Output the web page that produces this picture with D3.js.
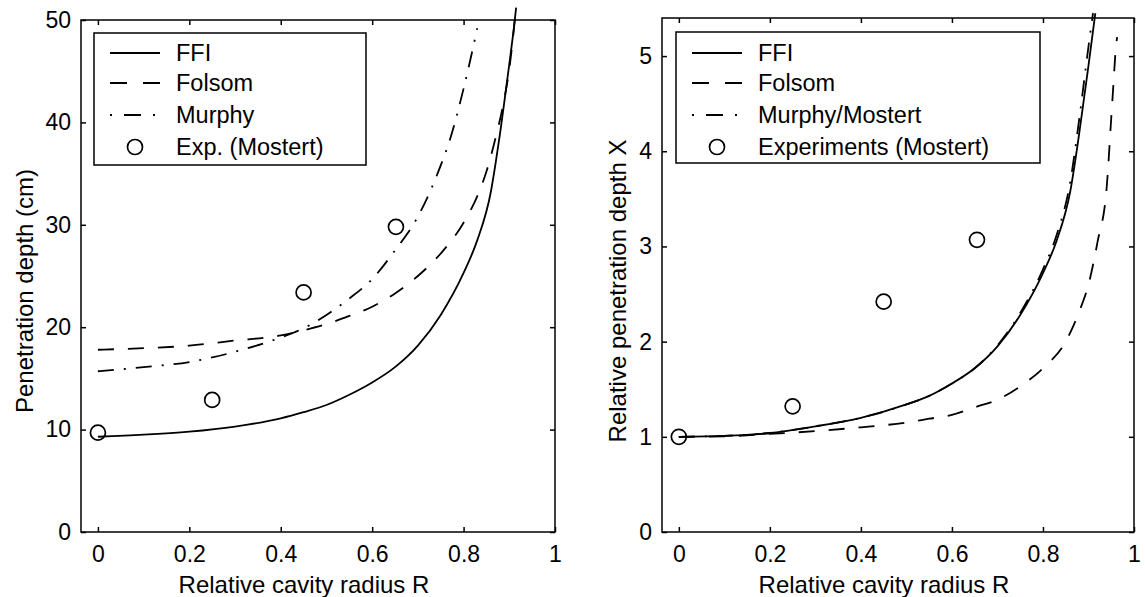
<!DOCTYPE html>
<html>
<head>
<meta charset="utf-8">
<script src="https://cdn.jsdelivr.net/npm/d3@7"></script>
<style>
  body { margin: 0; background: #fff; }
  svg { font-family: "Liberation Sans", Arial, sans-serif; }
  .axis path, .axis line { stroke: #000; stroke-width: 1.5; }
  .axis text { font-size: 23px; fill: #000; }
</style>
</head>
<body>
<svg id="chart" width="1145" height="597"></svg>
<script>
// x values shared by the curves (relative cavity radius R)
var rFfiL    = [0, 0.1, 0.2, 0.3, 0.4, 0.45, 0.5, 0.55, 0.6, 0.65, 0.7, 0.75, 0.8, 0.83, 0.86, 0.87, 0.88, 0.89, 0.9, 0.91, 0.915];
var ffiL     = [9.3, 9.5, 9.8, 10.3, 11.1, 11.7, 12.4, 13.4, 14.6, 16.1, 18.2, 21.2, 25.3, 28.5, 33.3, 36.0, 39.0, 42.3, 45.7, 49.2, 51.2];
var rFolL    = [0, 0.1, 0.2, 0.3, 0.4, 0.45, 0.5, 0.55, 0.6, 0.65, 0.7, 0.75, 0.8, 0.83, 0.85, 0.87, 0.89, 0.9, 0.912];
var folsomL  = [17.8, 17.95, 18.2, 18.7, 19.2, 19.7, 20.3, 21.1, 22.0, 23.3, 25.0, 27.2, 30.2, 32.8, 35.2, 38.5, 42.5, 45.2, 50.0];
var rMurL    = [0, 0.1, 0.2, 0.3, 0.4, 0.45, 0.5, 0.55, 0.6, 0.65, 0.7, 0.75, 0.77, 0.8, 0.83];
var murphyL  = [15.7, 16.1, 16.6, 17.6, 19.0, 19.9, 21.2, 22.8, 24.7, 27.5, 30.8, 35.8, 38.3, 43.3, 49.2];
var expRL    = [0, 0.25, 0.45, 0.652];
var expL     = [9.7, 12.9, 23.4, 29.8];

var rFfiR    = [0, 0.1, 0.2, 0.3, 0.4, 0.5, 0.55, 0.6, 0.65, 0.7, 0.75, 0.8, 0.83, 0.86, 0.88, 0.89, 0.9, 0.915];
var ffiR     = [1.0, 1.01, 1.04, 1.11, 1.2, 1.34, 1.43, 1.56, 1.72, 1.95, 2.28, 2.72, 3.06, 3.58, 4.2, 4.55, 4.9, 5.45];
var rMurR    = [0, 0.1, 0.2, 0.3, 0.4, 0.5, 0.55, 0.6, 0.65, 0.7, 0.75, 0.8, 0.83, 0.86, 0.88, 0.9, 0.91];
var murphyR  = [1.0, 1.01, 1.04, 1.11, 1.2, 1.34, 1.43, 1.56, 1.72, 1.96, 2.3, 2.76, 3.12, 3.68, 4.35, 5.1, 5.45];
var rFolR    = [0, 0.1, 0.2, 0.3, 0.4, 0.5, 0.55, 0.6, 0.65, 0.7, 0.75, 0.8, 0.85, 0.88, 0.9, 0.92, 0.94, 0.95, 0.955, 0.96, 0.963];
var folsomR  = [1.0, 1.005, 1.03, 1.06, 1.1, 1.15, 1.19, 1.23, 1.31, 1.39, 1.53, 1.72, 2.0, 2.32, 2.6, 3.05, 3.62, 4.35, 4.72, 5.08, 5.2];
var expRR    = [0, 0.25, 0.45, 0.655];
var expR     = [1.0, 1.32, 2.42, 3.07];

var xTicks   = [0, 0.2, 0.4, 0.6, 0.8, 1];
var yTicksL  = [0, 10, 20, 30, 40, 50];
var yTicksR  = [0, 1, 2, 3, 4, 5];

var namesL = ["FFI", "Folsom", "Murphy", "Exp. (Mostert)"];
var namesR = ["FFI", "Folsom", "Murphy/Mostert", "Experiments (Mostert)"];

var svg = d3.select("#chart");

function zip(xs, ys) { return xs.map(function(x, i) { return [x, ys[i]]; }); }

var dashes = { solid: null, dash: "16,14", dashdot: "16,10,2,10" };

function panel(opt) {
  var x = d3.scaleLinear().domain([-0.037, 1]).range([opt.left, opt.right]);
  var y = d3.scaleLinear().domain(opt.ydom).range([532, opt.top]);
  var g = svg.append("g");

  g.append("defs").append("clipPath").attr("id", opt.id)
    .append("rect").attr("x", opt.left).attr("y", opt.top - 14)
    .attr("width", opt.right - opt.left).attr("height", 532 - opt.top + 14);

  // box
  g.append("rect").attr("x", opt.left).attr("y", opt.top)
    .attr("width", opt.right - opt.left).attr("height", 532 - opt.top)
    .attr("fill", "none").attr("stroke", "#000").attr("stroke-width", 1.5);

  var fmt = d3.format("~g");
  g.append("g").attr("class", "axis").attr("transform", "translate(0,532)")
    .call(d3.axisBottom(x).tickValues(xTicks).tickFormat(fmt).tickSizeInner(-5).tickSizeOuter(0).tickPadding(14));
  g.append("g").attr("class", "axis").attr("transform", "translate(0," + opt.top + ")")
    .call(d3.axisTop(x).tickValues(xTicks).tickFormat("").tickSizeInner(-5).tickSizeOuter(0));
  g.append("g").attr("class", "axis").attr("transform", "translate(" + opt.left + ",0)")
    .call(d3.axisLeft(y).tickValues(opt.yticks).tickFormat(fmt).tickSizeInner(-5).tickSizeOuter(0).tickPadding(10));
  g.append("g").attr("class", "axis").attr("transform", "translate(" + opt.right + ",0)")
    .call(d3.axisRight(y).tickValues(opt.yticks).tickFormat("").tickSizeInner(-5).tickSizeOuter(0));
  g.selectAll(".axis .domain").remove();

  var line = d3.line().x(function(d) { return x(d[0]); }).y(function(d) { return y(d[1]); })
    .curve(d3.curveMonotoneX);

  opt.series.forEach(function(s) {
    g.append("path").datum(s.data)
      .attr("clip-path", "url(#" + opt.id + ")")
      .attr("d", line)
      .attr("fill", "none").attr("stroke", "#000").attr("stroke-width", 1.8)
      .attr("stroke-dasharray", dashes[s.style]);
  });

  g.selectAll("circle.exp").data(opt.points).enter().append("circle")
    .attr("class", "exp")
    .attr("cx", function(d) { return x(d[0]); })
    .attr("cy", function(d) { return y(d[1]); })
    .attr("r", 7.5).attr("fill", "none").attr("stroke", "#000").attr("stroke-width", 1.7);

  // legend
  var L = opt.legend;
  g.append("rect").attr("x", L.x).attr("y", L.y).attr("width", L.w).attr("height", L.h)
    .attr("fill", "#fff").attr("stroke", "#000").attr("stroke-width", 1.5);
  var styles = ["solid", "dash", "dashdot", "circle"];
  var rowY = [53, 83, 115, 147];
  styles.forEach(function(st, i) {
    if (st === "circle") {
      g.append("circle").attr("cx", L.x + 41).attr("cy", rowY[i]).attr("r", 7.5)
        .attr("fill", "none").attr("stroke", "#000").attr("stroke-width", 1.7);
    } else {
      g.append("line").attr("x1", L.x + 16).attr("x2", L.x + 66)
        .attr("y1", rowY[i]).attr("y2", rowY[i])
        .attr("stroke", "#000").attr("stroke-width", 1.8)
        .attr("stroke-dasharray", st === "dash" ? "17,16" : st === "dashdot" ? "2,12,17,12" : null);
    }
    g.append("text").attr("x", L.x + 82).attr("y", rowY[i]).attr("dy", "0.36em")
      .attr("font-size", 23.5).text(opt.names[i]);
  });

  g.append("text").attr("x", (opt.left + opt.right) / 2 - 14).attr("y", 593)
    .attr("text-anchor", "middle").attr("font-size", 24).text("Relative cavity radius R");
  g.append("text")
    .attr("transform", "translate(" + opt.ylabX + ",291) rotate(-90)")
    .attr("text-anchor", "middle").attr("font-size", 24).text(opt.ylabel);
}

panel({
  id: "clipL", left: 81, right: 555, top: 20, ydom: [0, 50], yticks: yTicksL,
  series: [
    { data: zip(rFfiL, ffiL), style: "solid" },
    { data: zip(rFolL, folsomL), style: "dash" },
    { data: zip(rMurL, murphyL), style: "dashdot" }
  ],
  points: zip(expRL, expL),
  legend: { x: 94, y: 33, w: 272, h: 132 },
  names: namesL,
  ylabel: "Penetration depth (cm)", ylabX: 33
});

panel({
  id: "clipR", left: 662, right: 1134, top: 18, ydom: [0, 5.4], yticks: yTicksR,
  series: [
    { data: zip(rFfiR, ffiR), style: "solid" },
    { data: zip(rFolR, folsomR), style: "dash" },
    { data: zip(rMurR, murphyR), style: "dashdot" }
  ],
  points: zip(expRR, expR),
  legend: { x: 676, y: 32, w: 364, h: 131 },
  names: namesR,
  ylabel: "Relative penetration depth X", ylabX: 626
});
</script>
</body>
</html>
